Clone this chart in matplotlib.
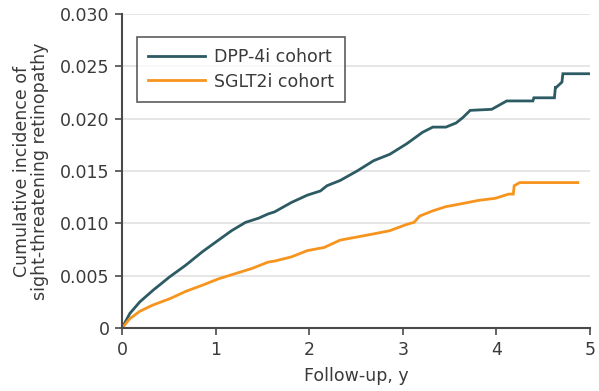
import matplotlib
matplotlib.use("Agg")
import matplotlib.pyplot as plt

plt.rcParams['font.family'] = ['DejaVu Sans']

# DPP-4i cohort (years, cumulative incidence)
dpp_x = [0, 0.084, 0.19, 0.33, 0.51, 0.68, 0.86, 1.03, 1.17, 1.32, 1.46, 1.56, 1.63, 1.81,
         1.98, 2.12, 2.19, 2.33, 2.51, 2.69, 2.86, 3.04, 3.21, 3.32, 3.46, 3.57, 3.64, 3.72,
         3.95, 4.11, 4.39, 4.40, 4.62, 4.63, 4.64, 4.70, 4.71, 4.74, 4.99]
dpp_y = [0, 0.0014, 0.0025, 0.0036, 0.0049, 0.0060, 0.0073, 0.0084, 0.0093, 0.0101, 0.0105,
         0.0109, 0.0111, 0.0120, 0.0127, 0.0131, 0.0136, 0.0141, 0.0150, 0.0160, 0.0166,
         0.0176, 0.0187, 0.0192, 0.0192, 0.0196, 0.0201, 0.0208, 0.0209, 0.0217, 0.0217,
         0.0220, 0.0220, 0.0230, 0.0230, 0.0235, 0.0243, 0.0243, 0.0243]

# SGLT2i cohort
sglt_x = [0, 0.084, 0.19, 0.33, 0.51, 0.68, 0.86, 1.03, 1.21, 1.39, 1.56, 1.63, 1.81, 1.98,
          2.16, 2.33, 2.51, 2.69, 2.86, 3.04, 3.12, 3.18, 3.32, 3.46, 3.64, 3.81, 3.99, 4.06,
          4.13, 4.18, 4.19, 4.25, 4.87]
sglt_y = [0, 0.0009, 0.0016, 0.0022, 0.0028, 0.0035, 0.0041, 0.0047, 0.0052, 0.0057, 0.0063,
          0.0064, 0.0068, 0.0074, 0.0077, 0.0084, 0.0087, 0.0090, 0.0093, 0.0099, 0.0101,
          0.0107, 0.0112, 0.0116, 0.0119, 0.0122, 0.0124, 0.0126, 0.0128, 0.0128, 0.0136,
          0.0139, 0.0139]

x_ticks = [0, 1, 2, 3, 4, 5]
y_ticks = [0, 0.005, 0.010, 0.015, 0.020, 0.025, 0.030]
y_ticklabels = ["0", "0.005", "0.010", "0.015", "0.020", "0.025", "0.030"]

text_color = "#3a3a3a"
fig = plt.figure(figsize=(5.99, 3.91), dpi=100)
ax = fig.add_axes([0.2037, 0.161, 0.7813, 0.803])

ax.plot(dpp_x, dpp_y, color="#2c5b63", lw=2.0, label="DPP-4i cohort", solid_joinstyle="miter")
ax.plot(sglt_x, sglt_y, color="#f7941d", lw=2.0, label="SGLT2i cohort", solid_joinstyle="miter")

ax.set_xlim(0, 5)
ax.set_ylim(0, 0.030)
ax.set_xticks(x_ticks)
ax.set_yticks(y_ticks)
ax.set_yticklabels(y_ticklabels)
ax.yaxis.grid(True, color="#e2e2e2", lw=1.2)
ax.set_axisbelow(True)
for s in ["top", "right"]:
    ax.spines[s].set_visible(False)
for s in ["left", "bottom"]:
    ax.spines[s].set_color("#4a4a4a")
    ax.spines[s].set_linewidth(1.5)
ax.tick_params(axis="both", direction="out", length=5, width=1.2, color="#4a4a4a",
               labelsize=12.5, labelcolor=text_color, pad=4)
ax.set_xlabel("Follow-up, y", fontsize=12.5, color=text_color, labelpad=6)
ax.set_ylabel("Cumulative incidence of\nsight-threatening retinopathy", fontsize=12.5,
              color=text_color, labelpad=8, linespacing=1.0)

leg = ax.legend(loc="upper left", bbox_to_anchor=(0.02, 0.943), fontsize=12.5, frameon=True,
                fancybox=False, edgecolor="#333333", handlelength=3.3, borderpad=0.65,
                labelspacing=0.35, handletextpad=0.5, borderaxespad=0.3)
leg.get_frame().set_linewidth(1.2)
for t in leg.get_texts():
    t.set_color(text_color)

fig.savefig("out.png", dpi=100)
